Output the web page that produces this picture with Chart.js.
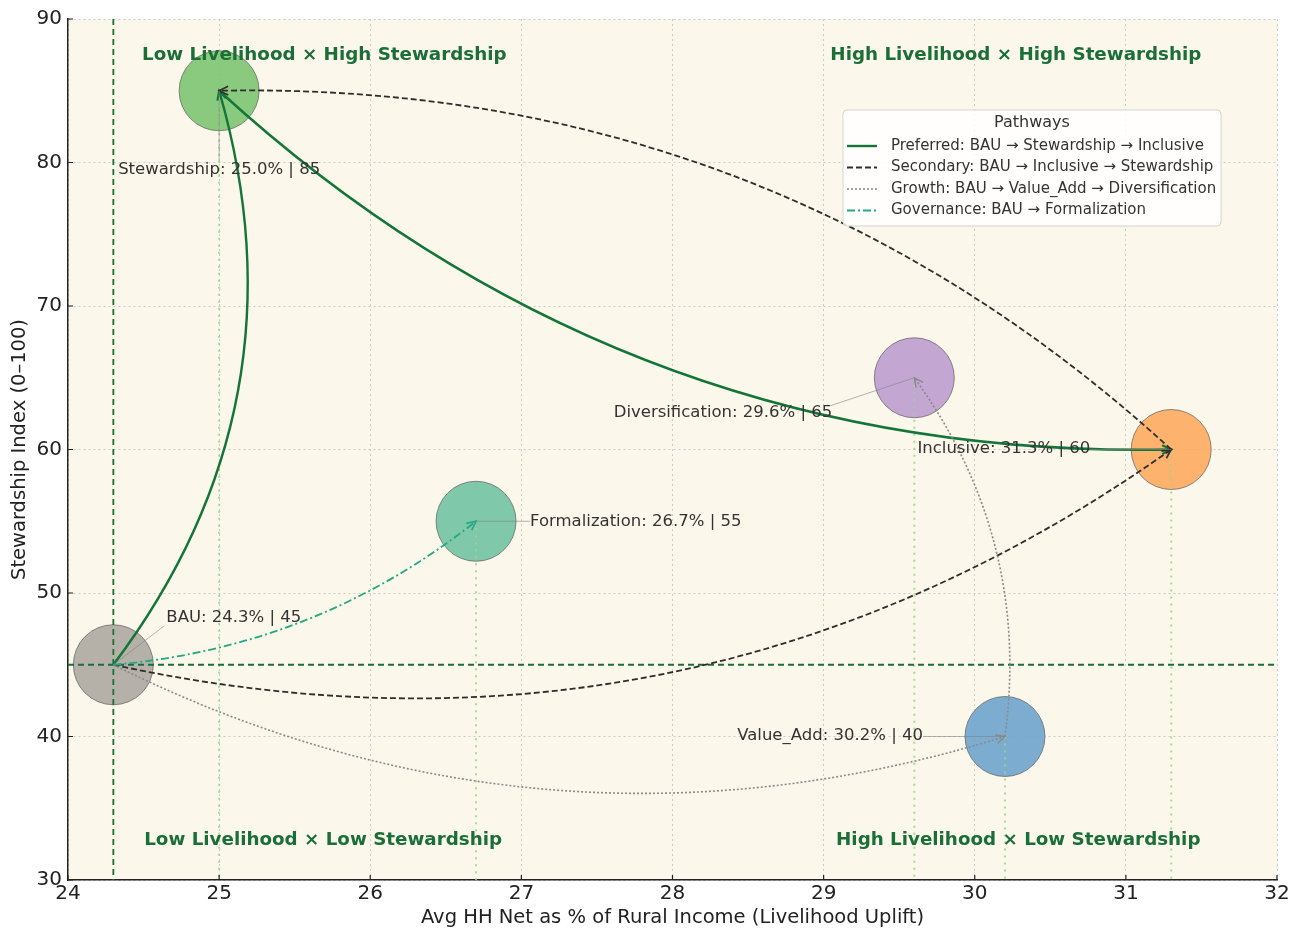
<!DOCTYPE html>
<html>
<head>
<meta charset="utf-8">
<script src="https://cdn.jsdelivr.net/npm/chart.js@4.4.1/dist/chart.umd.min.js"></script>
<style>
    html, body { margin: 0; padding: 0; background: #fff; }
    #wrap { width: 1296px; height: 932px; }
</style>
</head>
<body>
<div id="wrap"><canvas id="chart" width="1296" height="932"></canvas></div>
<script>
// scenario data
var scenarios = ['BAU', 'Stewardship', 'Inclusive', 'Value_Add', 'Diversification', 'Formalization'];
var livelihood = [24.3, 25.0, 31.3, 30.2, 29.6, 26.7];
var stewardship = [45, 85, 60, 40, 65, 55];

// pathways between scenarios
var pathwayNames = ['Preferred', 'Secondary', 'Growth', 'Governance'];
var pathwayRoutes = [
    ['BAU', 'Stewardship', 'Inclusive'],
    ['BAU', 'Inclusive', 'Stewardship'],
    ['BAU', 'Value_Add', 'Diversification'],
    ['BAU', 'Formalization']
];

var quadrantLabels = [
    'Low Livelihood × High Stewardship',
    'High Livelihood × High Stewardship',
    'Low Livelihood × Low Stewardship',
    'High Livelihood × Low Stewardship'
];

var xTitle = 'Avg HH Net as % of Rural Income (Livelihood Uplift)';
var yTitle = 'Stewardship Index (0–100)';

// styles
const FONT = "'DejaVu Sans', 'Liberation Sans', sans-serif";
const DARK_GREEN = '#1b6e38';
const bubbleColors = {
    BAU: 'rgba(168,165,158,0.85)',
    Stewardship: 'rgba(122,196,110,0.88)',
    Inclusive: 'rgba(253,168,92,0.88)',
    Value_Add: 'rgba(106,163,204,0.88)',
    Diversification: 'rgba(187,155,205,0.88)',
    Formalization: 'rgba(110,194,160,0.88)'
};
const pathwayStyles = [
    { color: '#147538', width: 2.4, dash: [] },
    { color: '#2e2e2e', width: 1.8, dash: [6, 3] },
    { color: '#8a8a8a', width: 1.6, dash: [2, 2] },
    { color: '#26a882', width: 1.8, dash: [8, 3, 2, 3] }
];
const bends = [[0.25, 0.2], [0.22, 0.2], [0.2, 0.2], [0.15]];
const labelPlacement = {
    BAU: { dx: 53, dy: -47, align: 'left', lx: 51, ly: -39 },
    Stewardship: { dx: -101, dy: 79, align: 'left', lx: 0, ly: 70 },
    Inclusive: { dx: -81, dy: -1, align: 'right', lx: -81, ly: 0 },
    Value_Add: { dx: -82, dy: -1, align: 'right', lx: -82, ly: 0 },
    Diversification: { dx: -82, dy: 35, align: 'right', lx: -84, ly: 28 },
    Formalization: { dx: 54, dy: 0, align: 'left', lx: 54, ly: 0 }
};
const quadrantAnchors = [[0.212, 0.042], [0.784, 0.042], [0.211, 0.9535], [0.786, 0.9535]];

function pointPx(chart, name) {
    var i = scenarios.indexOf(name);
    return {
        x: chart.scales.x.getPixelForValue(livelihood[i]),
        y: chart.scales.y.getPixelForValue(stewardship[i])
    };
}

/**
 * Draws a curved arrow from a to b (quadratic, bent sideways by rad)
 */
function drawCurvedArrow(ctx, a, b, rad, style) {
    var dx = b.x - a.x, dy = b.y - a.y;
    var cx = (a.x + b.x) / 2 - rad * dy;
    var cy = (a.y + b.y) / 2 + rad * dx;
    ctx.save();
    ctx.strokeStyle = style.color;
    ctx.lineWidth = style.width;
    ctx.setLineDash(style.dash);
    ctx.beginPath();
    ctx.moveTo(a.x, a.y);
    ctx.quadraticCurveTo(cx, cy, b.x, b.y);
    ctx.stroke();

    // open arrow head
    var ang = Math.atan2(b.y - cy, b.x - cx);
    var len = 10, spread = 0.45;
    ctx.setLineDash([]);
    ctx.lineWidth = Math.max(1.4, style.width * 0.9);
    ctx.beginPath();
    ctx.moveTo(b.x - len * Math.cos(ang - spread), b.y - len * Math.sin(ang - spread));
    ctx.lineTo(b.x, b.y);
    ctx.lineTo(b.x - len * Math.cos(ang + spread), b.y - len * Math.sin(ang + spread));
    ctx.stroke();
    ctx.restore();
}

// fixed axis band sizes so the plot area sits where the original has it
function fixScale(scale, size) {
    if (scale.isHorizontal()) scale.height = size;
    else scale.width = size;
    scale.paddingTop = 0;
    scale.paddingBottom = 0;
    scale.paddingLeft = 0;
    scale.paddingRight = 0;
}

const overlay = {
    id: 'pathwayOverlay',
    beforeDraw: (chart) => {
        var { ctx, chartArea } = chart;
        ctx.save();
        ctx.fillStyle = '#fbf7ea';
        ctx.fillRect(chartArea.left, chartArea.top, chartArea.right - chartArea.left, chartArea.bottom - chartArea.top);
        ctx.restore();
    },
    afterDatasetsDraw: (chart) => {
        var { ctx, chartArea } = chart;
        var ca = chartArea;
        var bau = pointPx(chart, 'BAU');

        ctx.save();
        // light green drop lines from each scenario
        ctx.strokeStyle = 'rgba(150,215,140,0.85)';
        ctx.lineWidth = 2;
        ctx.setLineDash([2, 5]);
        for (var name of scenarios) {
            if (name === 'BAU') continue;
            var p = pointPx(chart, name);
            ctx.beginPath();
            ctx.moveTo(p.x, p.y);
            ctx.lineTo(p.x, ca.bottom);
            ctx.stroke();
        }

        // BAU reference lines
        ctx.strokeStyle = DARK_GREEN;
        ctx.lineWidth = 1.8;
        ctx.setLineDash([6, 4]);
        ctx.beginPath();
        ctx.moveTo(bau.x, ca.top);
        ctx.lineTo(bau.x, ca.bottom);
        ctx.moveTo(ca.left, bau.y);
        ctx.lineTo(ca.right, bau.y);
        ctx.stroke();
        ctx.restore();

        // pathways
        pathwayRoutes.forEach((route, k) => {
            for (var s = 0; s < route.length - 1; s++) {
                drawCurvedArrow(ctx, pointPx(chart, route[s]), pointPx(chart, route[s + 1]), bends[k][s], pathwayStyles[k]);
            }
        });

        // point labels with leader lines
        ctx.save();
        ctx.font = '16.5px ' + FONT;
        ctx.textBaseline = 'middle';
        scenarios.forEach((name, i) => {
            var p = pointPx(chart, name);
            var lp = labelPlacement[name];
            ctx.strokeStyle = 'rgba(130,130,130,0.6)';
            ctx.lineWidth = 1;
            ctx.setLineDash([]);
            ctx.beginPath();
            ctx.moveTo(p.x, p.y);
            ctx.lineTo(p.x + lp.lx, p.y + lp.ly);
            ctx.stroke();
            ctx.fillStyle = '#333';
            ctx.textAlign = lp.align;
            ctx.fillText(name + ': ' + livelihood[i].toFixed(1) + '% | ' + stewardship[i], p.x + lp.dx, p.y + lp.dy);
        });
        ctx.restore();

        // quadrant labels
        ctx.save();
        ctx.font = 'bold 18.3px ' + FONT;
        ctx.fillStyle = DARK_GREEN;
        ctx.textAlign = 'center';
        ctx.textBaseline = 'middle';
        quadrantLabels.forEach((txt, q) => {
            var a = quadrantAnchors[q];
            ctx.fillText(txt, ca.left + a[0] * (ca.right - ca.left), ca.top + a[1] * (ca.bottom - ca.top));
        });
        ctx.restore();

        // legend box
        var bx = ca.right - 434, by = ca.top + 91, bw = 378, bh = 116;
        ctx.save();
        ctx.fillStyle = 'rgba(255,255,255,0.85)';
        ctx.strokeStyle = '#d4d4d4';
        ctx.lineWidth = 1;
        ctx.beginPath();
        ctx.roundRect(bx, by, bw, bh, 4);
        ctx.fill();
        ctx.stroke();
        ctx.fillStyle = '#333';
        ctx.font = '16px ' + FONT;
        ctx.textAlign = 'center';
        ctx.textBaseline = 'middle';
        ctx.fillText('Pathways', bx + bw / 2, by + 13);
        ctx.font = '15px ' + FONT;
        ctx.textAlign = 'left';
        pathwayNames.forEach((nm, k) => {
            var ly = by + 36 + k * 21.5;
            var st = pathwayStyles[k];
            ctx.strokeStyle = st.color;
            ctx.lineWidth = st.width;
            ctx.setLineDash(st.dash);
            ctx.beginPath();
            ctx.moveTo(bx + 4, ly);
            ctx.lineTo(bx + 34, ly);
            ctx.stroke();
            ctx.fillText(nm + ': ' + pathwayRoutes[k].join(' → '), bx + 48, ly);
        });
        ctx.restore();

        // inward tick marks
        ctx.save();
        ctx.strokeStyle = '#222';
        ctx.lineWidth = 1.2;
        ctx.beginPath();
        for (var t of chart.scales.x.ticks) {
            var xp = chart.scales.x.getPixelForValue(t.value);
            ctx.moveTo(xp, ca.bottom);
            ctx.lineTo(xp, ca.bottom - 5);
        }
        for (var t of chart.scales.y.ticks) {
            var yp = chart.scales.y.getPixelForValue(t.value);
            ctx.moveTo(ca.left, yp);
            ctx.lineTo(ca.left + 5, yp);
        }
        ctx.stroke();
        ctx.restore();
    }
};

var ctx = document.getElementById('chart');
var myChart = new Chart(ctx, {
    type: 'scatter',
    data: {
        datasets: [{
            label: 'Scenarios',
            data: scenarios.map((s, i) => ({ x: livelihood[i], y: stewardship[i] })),
            backgroundColor: scenarios.map(s => bubbleColors[s]),
            borderColor: 'rgba(100,100,100,0.75)',
            borderWidth: 1,
            pointRadius: 40,
            pointHoverRadius: 40
        }]
    },
    options: {
        responsive: false,
        devicePixelRatio: 1,
        animation: false,
        events: [],
        layout: { autoPadding: false, padding: { top: 19, right: 19, left: 0, bottom: 0 } },
        plugins: {
            legend: { display: false },
            tooltip: { enabled: false }
        },
        scales: {
            x: {
                type: 'linear',
                min: 24,
                max: 32,
                ticks: { stepSize: 1, color: '#222', padding: 2, font: { family: FONT, size: 20 } },
                grid: { color: '#cbcbcb', lineWidth: 1, drawTicks: false },
                border: { display: true, color: '#222', width: 1.5, dash: [2, 3] },
                title: { display: true, text: xTitle, color: '#222', font: { family: FONT, size: 19.5 }, padding: { top: 0, bottom: 2 } },
                afterFit: (scale) => fixScale(scale, 52)
            },
            y: {
                type: 'linear',
                min: 30,
                max: 90,
                ticks: { stepSize: 10, color: '#222', padding: 6, font: { family: FONT, size: 20 } },
                grid: { color: '#cbcbcb', lineWidth: 1, drawTicks: false },
                border: { display: true, color: '#222', width: 1.5, dash: [2, 3] },
                title: { display: true, text: yTitle, color: '#222', font: { family: FONT, size: 19.5 }, padding: { top: 8, bottom: 0 } },
                afterFit: (scale) => fixScale(scale, 68)
            }
        }
    },
    plugins: [overlay]
});
</script>
</body>
</html>
